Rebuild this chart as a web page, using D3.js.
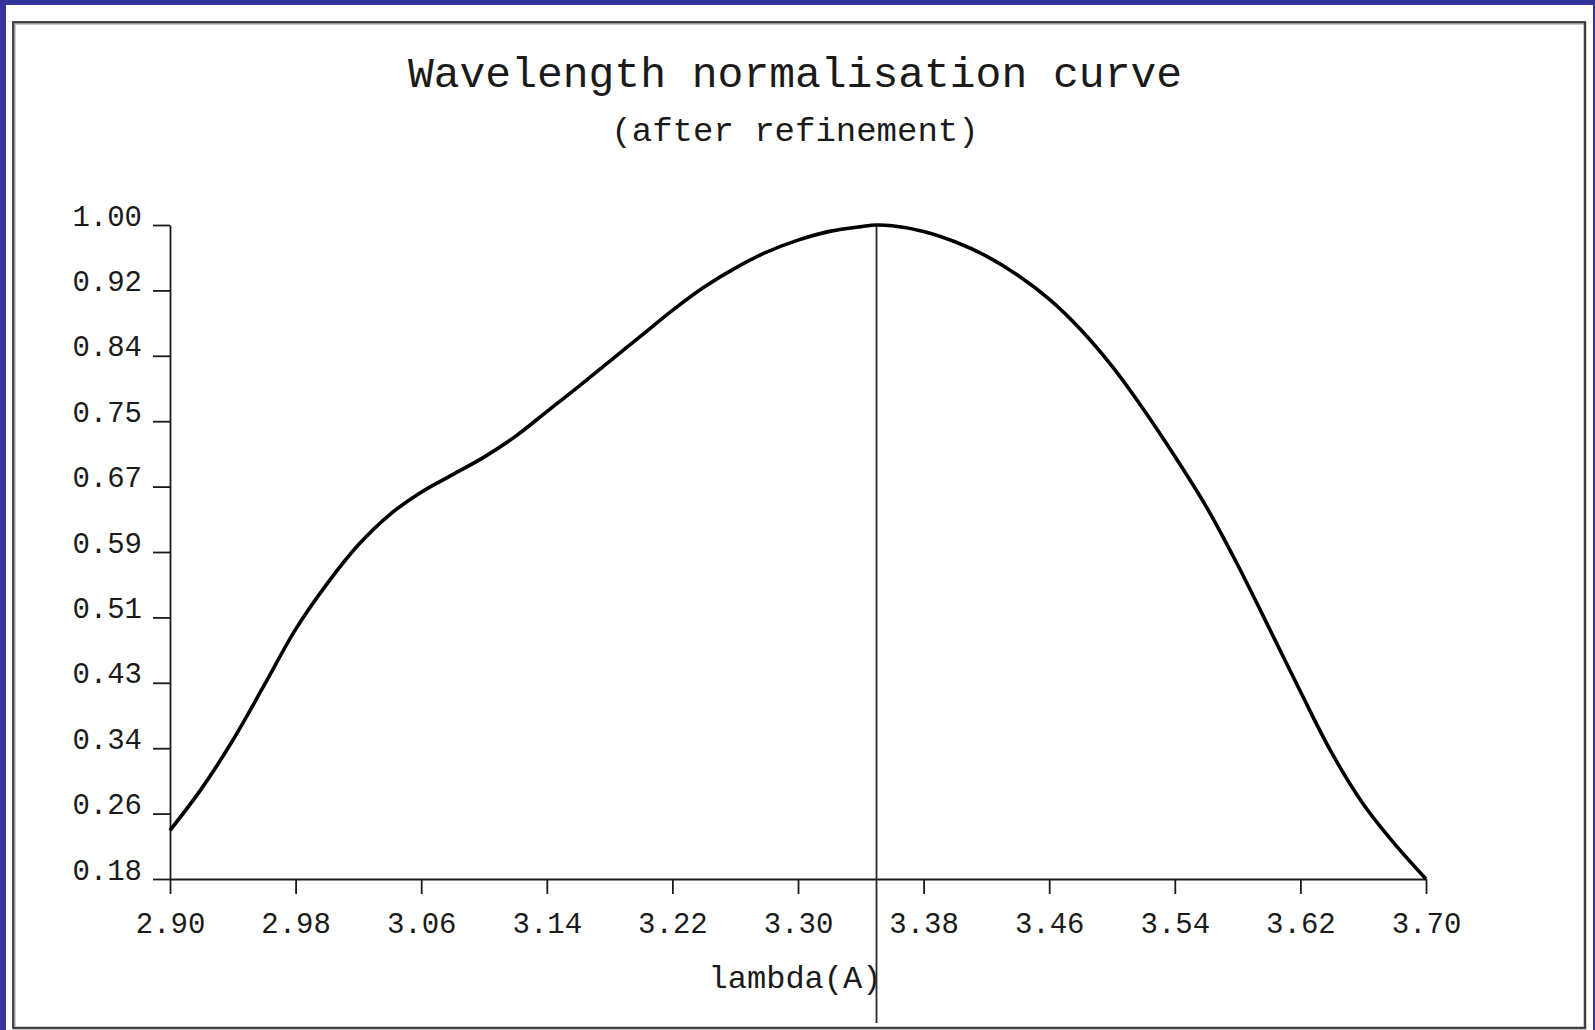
<!DOCTYPE html>
<html>
<head>
<meta charset="utf-8">
<script src="https://cdn.jsdelivr.net/npm/d3@7"></script>
<style>
  html, body { margin: 0; padding: 0; background: #35359a; }
  svg { display: block; }
  text { font-family: "Liberation Mono", "DejaVu Sans Mono", monospace; fill: #1a1a1a; }
</style>
</head>
<body>
<svg id="chart" width="1595" height="1030"></svg>
<script>
// wavelength (A) and normalisation factor
const lambda = [2.90, 2.92, 2.94, 2.96, 2.98, 3.00, 3.02, 3.04, 3.06, 3.08,
                3.10, 3.12, 3.14, 3.16, 3.18, 3.20, 3.22, 3.24, 3.26, 3.28,
                3.30, 3.32, 3.34, 3.35, 3.36, 3.38, 3.40, 3.42, 3.44, 3.46,
                3.48, 3.50, 3.52, 3.54, 3.56, 3.58, 3.60, 3.62, 3.64, 3.66,
                3.68, 3.70];
const norm = [0.241, 0.293, 0.354, 0.423, 0.493, 0.550, 0.599, 0.637, 0.665, 0.687,
              0.709, 0.735, 0.766, 0.797, 0.829, 0.861, 0.893, 0.922, 0.946, 0.966,
              0.981, 0.992, 0.998, 1.000, 0.999, 0.992, 0.979, 0.961, 0.937, 0.907,
              0.869, 0.823, 0.769, 0.710, 0.647, 0.574, 0.495, 0.415, 0.338, 0.274,
              0.224, 0.180];

const xTicks = [2.90, 2.98, 3.06, 3.14, 3.22, 3.30, 3.38, 3.46, 3.54, 3.62, 3.70];
const xTickLabels = ["2.90", "2.98", "3.06", "3.14", "3.22", "3.30", "3.38", "3.46", "3.54", "3.62", "3.70"];
const yTicks = [0.18, 0.262, 0.344, 0.426, 0.508, 0.59, 0.672, 0.754, 0.836, 0.918, 1.00];
const yTickLabels = ["0.18", "0.26", "0.34", "0.43", "0.51", "0.59", "0.67", "0.75", "0.84", "0.92", "1.00"];

const peakLambda = 3.35;
const title = "Wavelength normalisation curve";
const subtitle = "(after refinement)";
const xLabel = "lambda(A)";

function drawChart() {
    const svg = d3.select("#chart");
    svg.selectAll("*").remove();

    const height = 1030;
    const left = 170, right = 1426, top = 225, bottom = 879;
    const centre = 795;

    // page: blue surround, white panel, dark frame
    svg.append("rect")
        .attr("x", 6).attr("y", 5)
        .attr("width", 1587).attr("height", height - 5)
        .attr("fill", "#ffffff");
    svg.append("rect")
        .attr("x", 14).attr("y", 23)
        .attr("width", 1571).attr("height", 1005)
        .attr("fill", "none")
        .attr("stroke", "#9a9a9a")
        .attr("stroke-width", 3);
    svg.append("rect")
        .attr("x", 13).attr("y", 22)
        .attr("width", 1572).attr("height", 1006)
        .attr("fill", "none")
        .attr("stroke", "#2a2a2a")
        .attr("stroke-width", 1.6);

    const xScale = d3.scaleLinear()
        .domain([2.90, 3.70])
        .range([left, right]);

    const yScale = d3.scaleLinear()
        .domain([0.18, 1.00])
        .range([bottom, top]);

    // titles
    svg.append("text")
        .attr("x", centre).attr("y", 87)
        .attr("text-anchor", "middle")
        .style("font-size", "43px")
        .text(title);
    svg.append("text")
        .attr("x", centre).attr("y", 141)
        .attr("text-anchor", "middle")
        .style("font-size", "34px")
        .text(subtitle);

    // x axis
    const gx = svg.append("g")
        .attr("transform", `translate(0,${bottom})`)
        .call(d3.axisBottom(xScale)
            .tickValues(xTicks)
            .tickFormat((d, i) => xTickLabels[i])
            .tickSize(15)
            .tickSizeOuter(0));
    gx.select(".domain").attr("stroke", "#1a1a1a").attr("stroke-width", 1.8);
    gx.selectAll(".tick line").attr("stroke", "#1a1a1a").attr("stroke-width", 1.8);
    gx.selectAll(".tick text")
        .attr("y", 54)
        .attr("dy", 0)
        .style("font-size", "29px")
        .style("fill", "#1a1a1a");

    // y axis
    const gy = svg.append("g")
        .attr("transform", `translate(${left},0)`)
        .call(d3.axisLeft(yScale)
            .tickValues(yTicks)
            .tickFormat((d, i) => yTickLabels[i])
            .tickSize(17)
            .tickSizeOuter(0));
    gy.select(".domain").attr("stroke", "#1a1a1a").attr("stroke-width", 1.8);
    gy.selectAll(".tick line").attr("stroke", "#1a1a1a").attr("stroke-width", 1.8);
    gy.selectAll(".tick text")
        .attr("x", -28)
        .attr("dy", 0)
        .style("font-size", "29px")
        .style("fill", "#1a1a1a");

    svg.append("text")
        .attr("x", centre).attr("y", 988)
        .attr("text-anchor", "middle")
        .style("font-size", "32px")
        .text(xLabel);

    // peak marker
    svg.append("line")
        .attr("x1", xScale(peakLambda)).attr("x2", xScale(peakLambda))
        .attr("y1", yScale(1.00)).attr("y2", 1023)
        .attr("stroke", "#2a2a2a")
        .attr("stroke-width", 1.8);

    const data = lambda.map((x, i) => ({ x, y: norm[i] }));

    const line = d3.line()
        .x(d => xScale(d.x))
        .y(d => yScale(d.y))
        .curve(d3.curveCatmullRom.alpha(0.5));

    svg.append("path")
        .datum(data)
        .attr("fill", "none")
        .attr("stroke", "#000")
        .attr("stroke-width", 3.6)
        .attr("d", line);
}

drawChart();
</script>
</body>
</html>
